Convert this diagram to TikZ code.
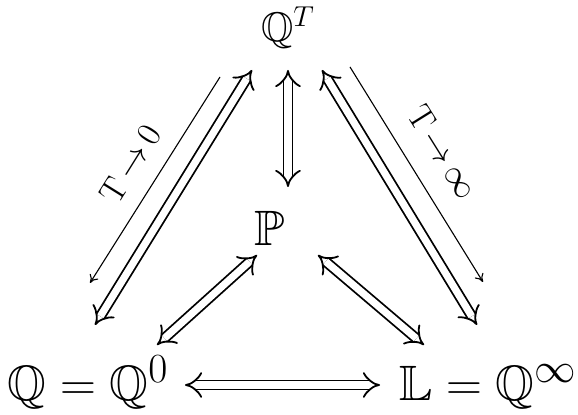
\documentclass[tikz,border=0pt]{standalone}
\usepackage{amssymb}
\usetikzlibrary{arrows.meta}
\begin{document}
\begin{tikzpicture}[x=0.5pt,y=-0.5pt,
  dbl/.style={double, double distance=3.6pt, line width=0.9pt, {Implies}-{Implies}},
  thin/.style={line width=0.55pt, -{To[length=4pt,width=5pt]}},
  lbl/.style={inner sep=0pt, font=\LARGE},
  big/.style={inner sep=0pt, font=\Huge}]
\useasboundingbox (0,0) rectangle (578,415);
\node[inner sep=0pt, font=\huge] (QT) at (288,28) {$\mathbb{Q}^T$};
\node[big] (P) at (270,228) {$\mathbb{P}$};
\node[big, anchor=base] (Q0) at (88,401) {$\mathbb{Q}=\mathbb{Q}^0$};
\node[big, anchor=base] (L) at (488,401) {$\mathbb{L}=\mathbb{Q}^\infty$};
% endpoints
\coordinate (v1) at (288,70); \coordinate (v2) at (288,187);
\coordinate (l1) at (252,70); \coordinate (l2) at (95,325);
\coordinate (r1) at (322,70); \coordinate (r2) at (477,325);
\coordinate (sl1) at (257,255); \coordinate (sl2) at (157,345);
\coordinate (sr1) at (318,255); \coordinate (sr2) at (424,345);
\coordinate (h1) at (185,385); \coordinate (h2) at (380,385);
\coordinate (tl1) at (220,77); \coordinate (tl2) at (90,283);
\coordinate (tr1) at (350,67); \coordinate (tr2) at (483,282);
\draw[dbl] (v1) -- (v2);
\draw[dbl] (l1) -- (l2);
\draw[dbl] (r1) -- (r2);
\draw[dbl] (sl1) -- (sl2);
\draw[dbl] (sr1) -- (sr2);
\draw[dbl] (h1) -- (h2);
\draw[thin] (tl1) -- (tl2);
\draw[thin] (tr1) -- (tr2);
\node[lbl, rotate=58] (lab0) at (130,164) {$\mathrm{T}\,{\to}\,0$};
\node[lbl, rotate=-58] (labinf) at (443,152) {$\mathrm{T}\,{\to}\,\infty$};
\end{tikzpicture}
\end{document}
